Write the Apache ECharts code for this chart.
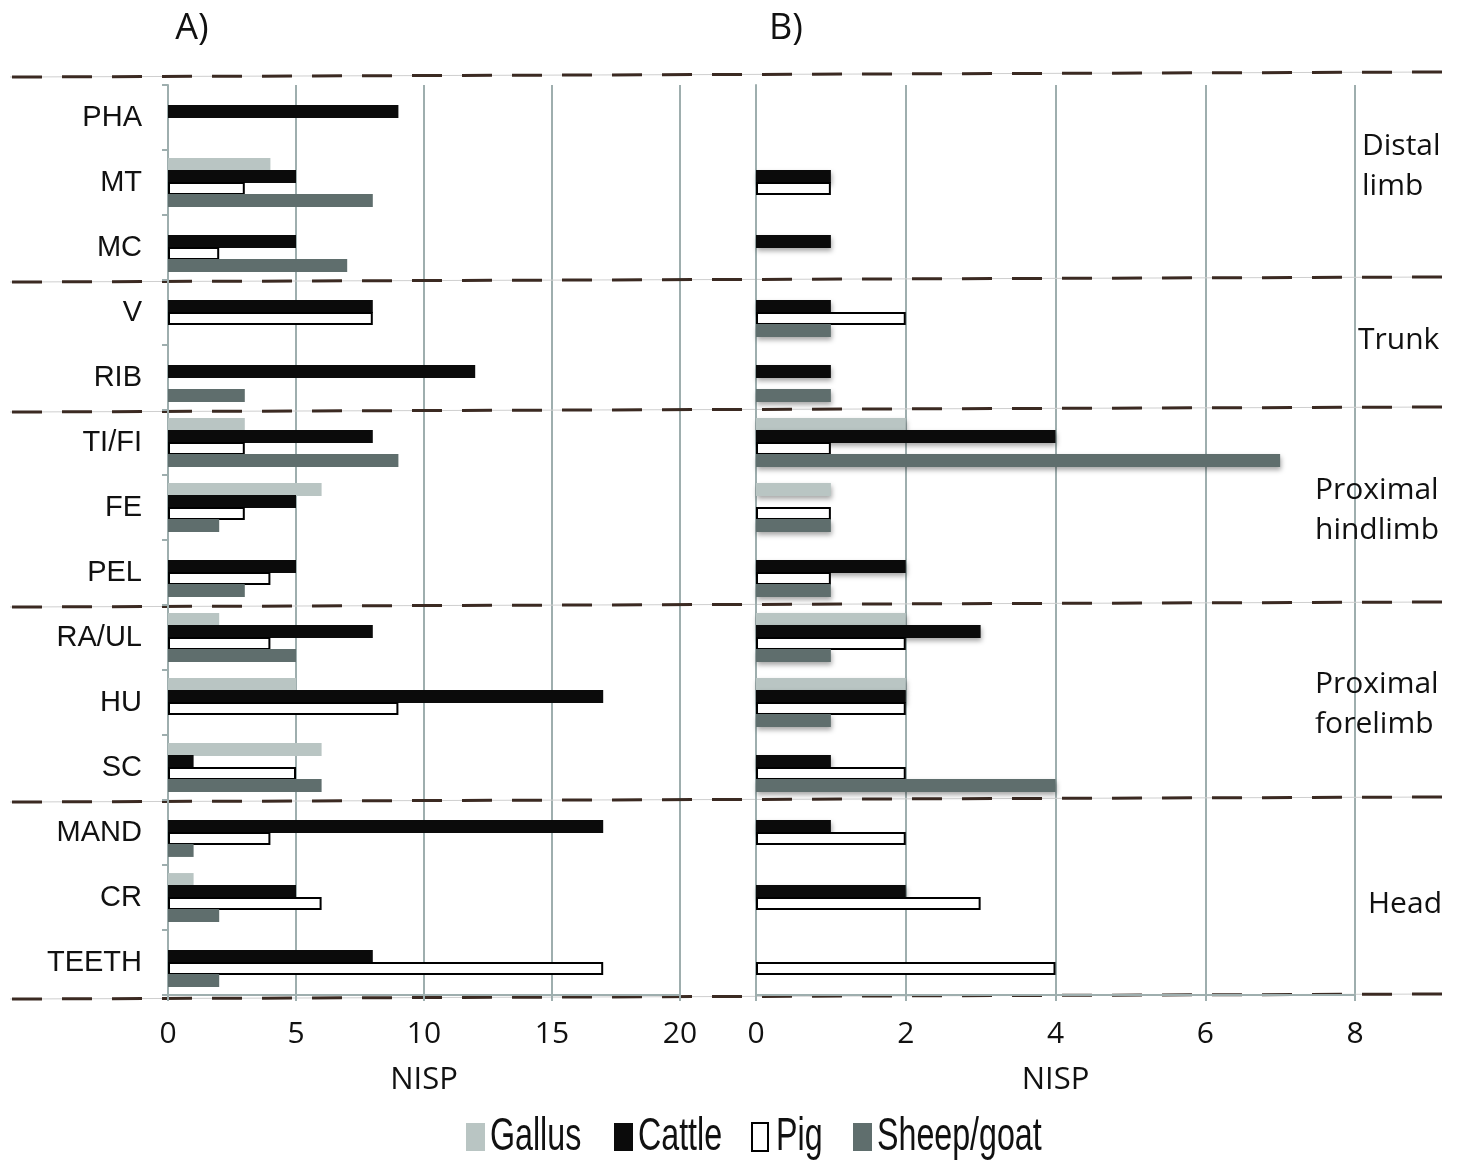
<!DOCTYPE html>
<html>
<head>
<meta charset="utf-8">
<script src="https://cdn.jsdelivr.net/npm/echarts@6/dist/echarts.min.js"></script>
<style>
html,body{margin:0;padding:0;background:#fff;}
#c{width:1459px;height:1160px;}
</style>
</head>
<body>
<div id="c"></div>
<script>
// ---- data ----
var categories = ['PHA','MT','MC','V','RIB','TI/FI','FE','PEL','RA/UL','HU','SC','MAND','CR','TEETH'];
var seriesNames = ['Gallus','Cattle','Pig','Sheep/goat'];
// Panel A (NISP)
var aGallus = [0,4,0,0,0,3,6,0,2,5,6,0,1,0];
var aCattle = [9,5,5,8,12,8,5,5,8,17,1,17,5,8];
var aPig    = [0,3,2,8,0,3,3,4,4,9,5,4,6,17];
var aSheep  = [0,8,7,0,3,9,2,3,5,0,6,1,2,2];
// Panel B (NISP)
var bGallus = [0,0,0,0,0,2,1,0,2,2,0,0,0,0];
var bCattle = [0,1,1,1,1,4,0,2,3,2,1,1,2,0];
var bPig    = [0,1,0,2,0,1,1,1,2,2,2,2,3,4];
var bSheep  = [0,0,0,1,1,7,1,1,1,1,4,0,0,0];
var axisATicks = [0,5,10,15,20];
var axisBTicks = [0,2,4,6,8];
var groups = [
  {label:'Distal\nlimb', from:0, to:2},
  {label:'Trunk', from:3, to:4},
  {label:'Proximal\nhindlimb', from:5, to:7},
  {label:'Proximal\nforelimb', from:8, to:10},
  {label:'Head', from:11, to:13}
];

// ---- styles ----
var colors = ['#b9c5c3','#0b0b0b','#ffffff','#5f6e6d'];
var gridGrey = '#9eaeae';
var catFont = '"Liberation Sans", Arial, sans-serif';
var numFont = '"Open Sans", "Noto Sans", sans-serif';

function nz(arr){ return arr.map(function(v){ return v === 0 ? '-' : v; }); }

var dataA = [aGallus, aCattle, aPig, aSheep];
var dataB = [bGallus, bCattle, bPig, bSheep];

function makeSeries(data, idx, panel){
  return data.map(function(arr, i){
    var style = {color: colors[i]};
    if (i === 2) { style.borderColor = '#000'; style.borderWidth = 2; }
    if (panel === 1 && i !== 2) {
      style.shadowBlur = 5; style.shadowOffsetX = 1; style.shadowOffsetY = 3;
      style.shadowColor = 'rgba(0,0,0,0.35)';
    }
    return {
      name: seriesNames[i], type: 'bar',
      xAxisIndex: idx, yAxisIndex: idx,
      data: nz(arr), barWidth: 13, barGap: '-8%',
      itemStyle: style, silent: true
    };
  });
}

function xAxis(gridIndex, ticks){
  return {
    type: 'value', gridIndex: gridIndex, min: ticks[0], max: ticks[ticks.length-1],
    interval: ticks[1] - ticks[0],
    name: 'NISP', nameLocation: 'middle', nameGap: 70,
    nameTextStyle: {fontFamily: numFont, fontSize: 31, color: '#111'},
    axisLine: {show: true, lineStyle: {color: gridGrey, width: 2}},
    axisTick: {show: true, length: 6, lineStyle: {color: gridGrey, width: 2}},
    axisLabel: {fontFamily: numFont, fontSize: 30, color: '#111', margin: 24},
    splitLine: {show: true, lineStyle: {color: gridGrey, width: 2}}
  };
}

var chart = echarts.init(document.getElementById('c'), null, {renderer: 'canvas'});
var option = {
  animation: false,
  backgroundColor: '#fff',
  grid: [
    {left: 168, top: 85, width: 512, height: 910},
    {left: 756, top: 85, width: 599, height: 910}
  ],
  xAxis: [xAxis(0, axisATicks), xAxis(1, axisBTicks)],
  yAxis: [
    {type: 'category', gridIndex: 0, data: categories, inverse: true,
     axisLine: {show: true, lineStyle: {color: gridGrey, width: 2}},
     axisTick: {show: true, length: 6, interval: 0, lineStyle: {color: gridGrey, width: 2}},
     axisLabel: {fontFamily: catFont, fontSize: 29, color: '#111', margin: 26, interval: 0,
                 padding: [9, 0, 0, 0]}},
    {type: 'category', gridIndex: 1, data: categories, inverse: true,
     axisLine: {show: true, lineStyle: {color: gridGrey, width: 2}},
     axisTick: {show: false}, axisLabel: {show: false}}
  ],
  series: makeSeries(dataA, 0, 0).concat(makeSeries(dataB, 1, 1))
};
chart.setOption(option);

// separators & annotations tied to the category scale
var p0 = chart.convertToPixel({yAxisIndex: 0}, categories[0]);
var p1 = chart.convertToPixel({yAxisIndex: 0}, categories[1]);
var step = p1 - p0;
function boundary(k){ return chart.convertToPixel({yAxisIndex: 0}, categories[Math.min(k, categories.length-1)]) + (k >= categories.length ? step/2 : -step/2); }
var sepIdx = [0, 3, 5, 8, 11, 14];
var graphics = [];
sepIdx.forEach(function(k){
  var y = boundary(k);
  if (k === 0) y -= 10;
  if (k === 14) y += 2;
  graphics.push({type: 'line', silent: true, shape: {x1: 10, y1: y + 2, x2: 1442, y2: y - 3},
    style: {stroke: '#cfcfcf', lineWidth: 1}});
  graphics.push({type: 'line', silent: true, shape: {x1: 12, y1: y + 2, x2: 1442, y2: y - 3},
    style: {stroke: '#3b2a22', lineWidth: 3, lineDash: [30, 20]}});
});
var groupX = [1362, 1358, 1315, 1315, 1368];
var groupDy = [-16, -5, 3, 2, 7];
groups.forEach(function(g, i){
  var yc = (boundary(g.from) + boundary(g.to + 1)) / 2 + groupDy[i];
  graphics.push({type: 'text', silent: true, x: groupX[i], y: yc,
    style: {text: g.label, fontFamily: numFont, fontSize: 30, fill: '#111',
      textAlign: 'left', textVerticalAlign: 'middle', lineHeight: 40}});
});
graphics.push({type: 'text', silent: true, x: 192, y: 29,
  style: {text: 'A)', fontFamily: numFont, fontSize: 36, fill: '#111', textAlign: 'center', textVerticalAlign: 'middle'}});
graphics.push({type: 'text', silent: true, x: 786, y: 29,
  style: {text: 'B)', fontFamily: numFont, fontSize: 36, fill: '#111', textAlign: 'center', textVerticalAlign: 'middle'}});

// legend (narrow type, as in the reference)
var legIconX = [466, 614, 752, 853];
seriesNames.forEach(function(n, i){
  graphics.push({type: 'rect', silent: true, shape: {x: legIconX[i], y: 1123, width: i === 2 ? 16 : 19, height: 28},
    style: i === 2 ? {fill: '#fff', stroke: '#000', lineWidth: 2} : {fill: colors[i]}});
  graphics.push({type: 'text', silent: true, x: legIconX[i] + 24, y: 1137, scaleX: 0.7,
    style: {text: n, fontFamily: catFont, fontSize: 46, fill: '#111', textAlign: 'left', textVerticalAlign: 'middle'}});
});
chart.setOption({graphic: {elements: graphics}});
</script>
</body>
</html>
